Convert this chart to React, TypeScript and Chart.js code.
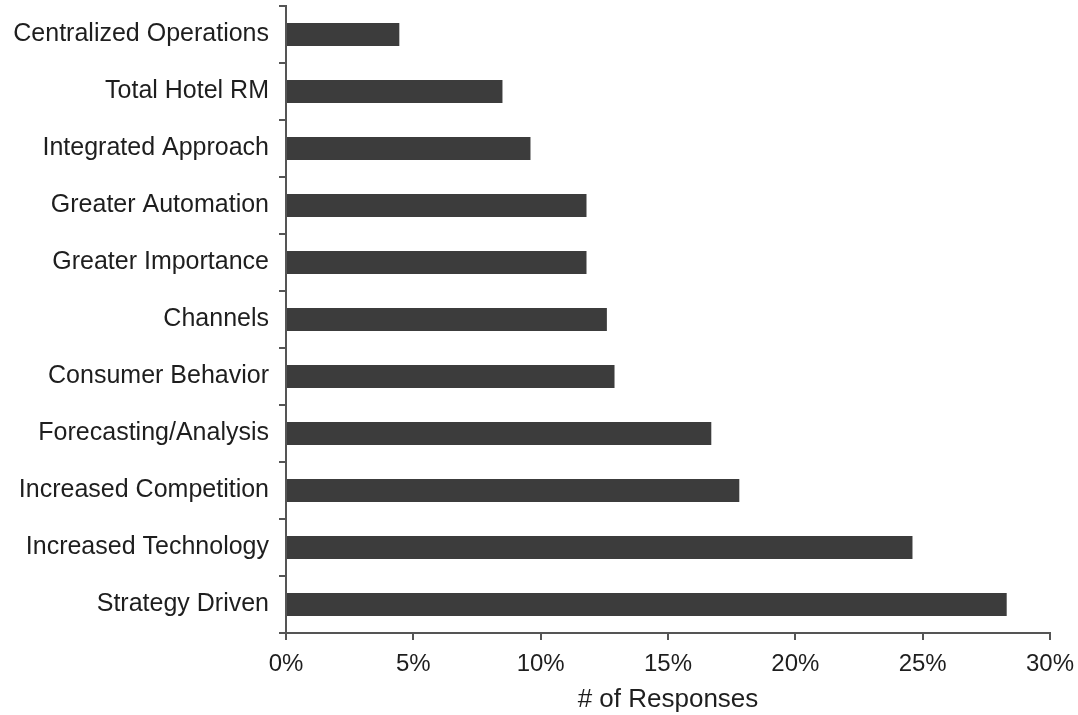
import React, { useEffect, useRef } from "react";
import { Chart, registerables } from "chart.js";

Chart.register(...registerables);

const categories = [
  "Centralized Operations",
  "Total Hotel RM",
  "Integrated Approach",
  "Greater Automation",
  "Greater Importance",
  "Channels",
  "Consumer Behavior",
  "Forecasting/Analysis",
  "Increased Competition",
  "Increased Technology",
  "Strategy Driven",
];
const responses = [4.45, 8.5, 9.6, 11.8, 11.8, 12.6, 12.9, 16.7, 17.8, 24.6, 28.3];
const xTicks = [0, 5, 10, 15, 20, 25, 30];
const xTitle = "# of Responses";

export default function App() {
  const ref = useRef<HTMLCanvasElement>(null);
  useEffect(() => {
    if (!ref.current) return;
    const family = "'Liberation Sans', Arial, sans-serif";
    const chart = new Chart(ref.current, {
      type: "bar",
      data: {
        labels: categories,
        datasets: [
          {
            data: responses,
            backgroundColor: "#3c3c3c",
            borderWidth: 0,
            barPercentage: 0.4,
            categoryPercentage: 1,
          },
        ],
      },
      options: {
        indexAxis: "y",
        animation: false,
        responsive: false,
        maintainAspectRatio: false,
        layout: { padding: { top: 6, right: 28, bottom: 0, left: 0 } },
        plugins: { legend: { display: false }, tooltip: { enabled: false } },
        scales: {
          x: {
            min: 0,
            max: 30,
            afterBuildTicks: (axis: any) => {
              axis.ticks = xTicks.map((v) => ({ value: v }));
            },
            afterFit: (axis: any) => {
              axis.height = 82;
              axis.paddingLeft = 0;
              axis.paddingRight = 0;
            },
            ticks: {
              callback: (v: any) => v + "%",
              color: "#1e1e1e",
              font: { family, size: 24 },
              padding: 10,
              maxRotation: 0,
            },
            grid: {
              drawOnChartArea: false,
              drawTicks: true,
              tickLength: 7,
              color: "#555",
              lineWidth: 2,
            },
            border: { color: "#555", width: 2 },
            title: {
              display: true,
              text: xTitle,
              color: "#1e1e1e",
              font: { family, size: 26 },
              padding: { top: 0, bottom: 0 },
            },
          },
          y: {
            offset: true,
            afterFit: (axis: any) => {
              axis.width = 286;
              axis.paddingTop = 0;
              axis.paddingBottom = 0;
            },
            ticks: {
              color: "#1e1e1e",
              font: { family, size: 25 },
              padding: 10,
            },
            grid: {
              offset: true,
              drawOnChartArea: false,
              drawTicks: true,
              tickLength: 7,
              color: "#555",
              lineWidth: 2,
            },
            border: { color: "#555", width: 2 },
          },
        },
      },
    });
    return () => chart.destroy();
  }, []);
  return (
    <div style={{ position: "fixed", left: 0, top: 0, width: 1078, height: 715, background: "#fff" }}>
      <canvas ref={ref} width={1078} height={715} style={{ width: 1078, height: 715 }} />
    </div>
  );
}
